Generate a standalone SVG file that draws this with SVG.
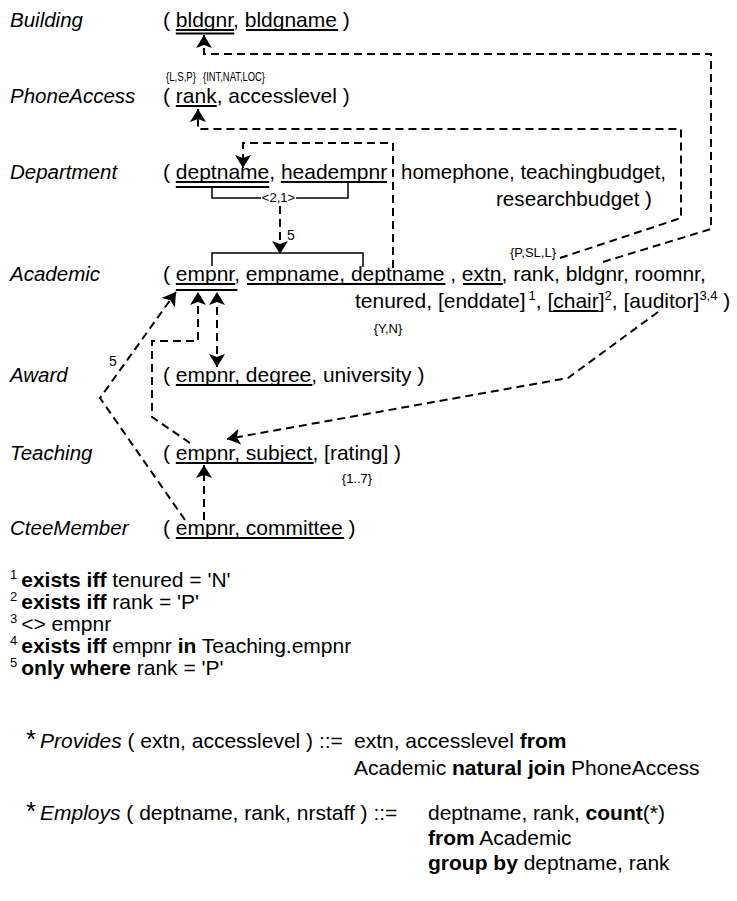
<svg xmlns="http://www.w3.org/2000/svg" width="737" height="901" viewBox="0 0 737 901">
<style>
text{font-family:"Liberation Sans",Arial,Helvetica,sans-serif;fill:#000}
.lbl{font-size:20.5px;font-style:italic}
.t{font-size:21px}
.s{font-size:13px}
.n5{font-size:14px}
.b{font-weight:bold}
.i{font-style:italic}
.star{font-size:26px}
.ul{fill:none;stroke:#000;stroke-width:1.8}
.sol{fill:none;stroke:#000;stroke-width:1.5}
.dash{fill:none;stroke:#000;stroke-width:2;stroke-dasharray:8 5;marker-end:url(#ah)}
</style>
<defs>
<marker id="ah" viewBox="0 0 13 16" markerWidth="13" markerHeight="16" refX="13" refY="8" orient="auto-start-reverse" markerUnits="userSpaceOnUse">
<path d="M0,0 L13,8 L0,16 L3,8 z" fill="#000"/>
</marker>
</defs>
<rect width="737" height="901" fill="#fff"/>

<g id="building">
<text class="lbl" x="10" y="27">Building</text>
<text class="t" x="163" y="27">( bldgnr, bldgname )</text>
<path class="ul" d="M175.8,30H234.2M175.8,33.5H234.2M245.9,30H338.1"/>
</g>

<g id="phoneaccess">
<text class="s" x="166" y="81" textLength="30" lengthAdjust="spacingAndGlyphs">{L,S,P}</text>
<text class="s" x="203" y="81" textLength="62" lengthAdjust="spacingAndGlyphs">{INT,NAT,LOC}</text>
<text class="lbl" x="10" y="103">PhoneAccess</text>
<text class="t" x="163" y="103">( rank, accesslevel )</text>
<path class="ul" d="M175.8,106H216.7"/>
</g>

<g id="department">
<text class="lbl" x="10" y="179">Department</text>
<text class="t" x="163" y="179">( deptname, headempnr</text>
<text class="t" x="401" y="179" textLength="265" lengthAdjust="spacingAndGlyphs">homephone, teachingbudget,</text>
<text class="t" x="496" y="206" textLength="156" lengthAdjust="spacingAndGlyphs">researchbudget )</text>
<path class="ul" d="M175.8,182H269.2M175.8,187H269.2M280.9,182H387.1"/>
<path class="sol" d="M212,187V198H261M296,198H348V182"/>
<text class="s" x="278.5" y="202" text-anchor="middle">&lt;2,1&gt;</text>
</g>

<g id="academic">
<text class="lbl" x="10" y="281">Academic</text>
<path class="sol" d="M212,266V253H363V267"/>
<text class="t" x="163" y="281">( empnr, empname, deptname , extn, rank, bldgnr, roomnr,</text>
<text class="s" x="533" y="257" text-anchor="middle">{P,SL,L}</text>
<text class="t" x="355" y="308">tenured, [enddate]<tspan class="s" dx="3" dy="-8">1</tspan><tspan dy="8">, [chair]</tspan><tspan class="s" dy="-8">2</tspan><tspan dy="8">, [auditor]</tspan><tspan class="s" dy="-8">3,4</tspan><tspan dy="8"> )</tspan></text>
<text class="s" x="388" y="333" text-anchor="middle">{Y,N}</text>
<path class="ul" d="M175.8,284H235.3M175.8,290H237.3M247,284H445.5M463,284H502.7M553.2,311H598.7"/>
</g>

<g id="award">
<text class="lbl" x="10" y="382">Award</text>
<text class="t" x="163" y="382">( empnr, degree, university )</text>
<path class="ul" d="M175.8,385H312.4"/>
</g>

<g id="teaching">
<text class="lbl" x="10" y="460">Teaching</text>
<text class="t" x="163" y="460">( empnr, subject, [rating] )</text>
<path class="ul" d="M175.8,463H313.6"/>
<text class="s" x="357" y="483" text-anchor="middle">{1..7}</text>
</g>

<g id="cteemember">
<text class="lbl" x="10" y="535">CteeMember</text>
<text class="t" x="163" y="535">( empnr, committee )</text>
<path class="ul" d="M175.8,538H343.9"/>
</g>

<g id="connectors">
<path class="dash" d="M603,262 L711,229 V54 H204 V35"/>
<path class="dash" d="M560,258 L681,218 V129 H198 V109"/>
<path class="dash" d="M393,268 V143 H243 V168"/>
<path class="dash" d="M280,206 V254"/>
<text class="n5" x="287" y="240">5</text>
<path class="dash" d="M185,520 L100,398 L176,292"/>
<text class="n5" x="109" y="366">5</text>
<path class="dash" d="M190,443 L152,417 V341 H198 V292"/>
<path class="dash" d="M217,367 V292" style="marker-start:url(#ah)"/>
<path class="dash" d="M658,312 L568,378 L227,439"/>
<path class="dash" d="M204,520 V465"/>
</g>

<g id="footnotes">
<text class="t" x="10" y="587"><tspan class="s" dy="-8">1</tspan><tspan class="b" dx="4" dy="8">exists iff</tspan> tenured = 'N'</text>
<text class="t" x="10" y="609"><tspan class="s" dy="-8">2</tspan><tspan class="b" dx="4" dy="8">exists iff</tspan> rank = 'P'</text>
<text class="t" x="10" y="631"><tspan class="s" dy="-8">3</tspan><tspan dx="4" dy="8">&lt;&gt; empnr</tspan></text>
<text class="t" x="10" y="653"><tspan class="s" dy="-8">4</tspan><tspan class="b" dx="4" dy="8">exists iff</tspan> empnr <tspan class="b">in</tspan> Teaching.empnr</text>
<text class="t" x="10" y="675"><tspan class="s" dy="-8">5</tspan><tspan class="b" dx="4" dy="8">only where</tspan> rank = 'P'</text>
</g>

<g id="provides">
<text class="star" x="26" y="748">*</text>
<text class="t" x="40" y="748"><tspan class="i">Provides</tspan> ( extn, accesslevel ) ::=</text>
<text class="t" x="354" y="748">extn, accesslevel <tspan class="b">from</tspan></text>
<text class="t" x="354" y="775">Academic <tspan class="b">natural join</tspan> PhoneAccess</text>
</g>

<g id="employs">
<text class="star" x="26" y="820">*</text>
<text class="t" x="40" y="820"><tspan class="i">Employs</tspan> ( deptname, rank, nrstaff ) ::=</text>
<text class="t" x="428" y="820">deptname, rank, <tspan class="b">count</tspan>(*)</text>
<text class="t" x="428" y="845"><tspan class="b">from</tspan> Academic</text>
<text class="t" x="428" y="870"><tspan class="b">group by</tspan> deptname, rank</text>
</g>
</svg>
